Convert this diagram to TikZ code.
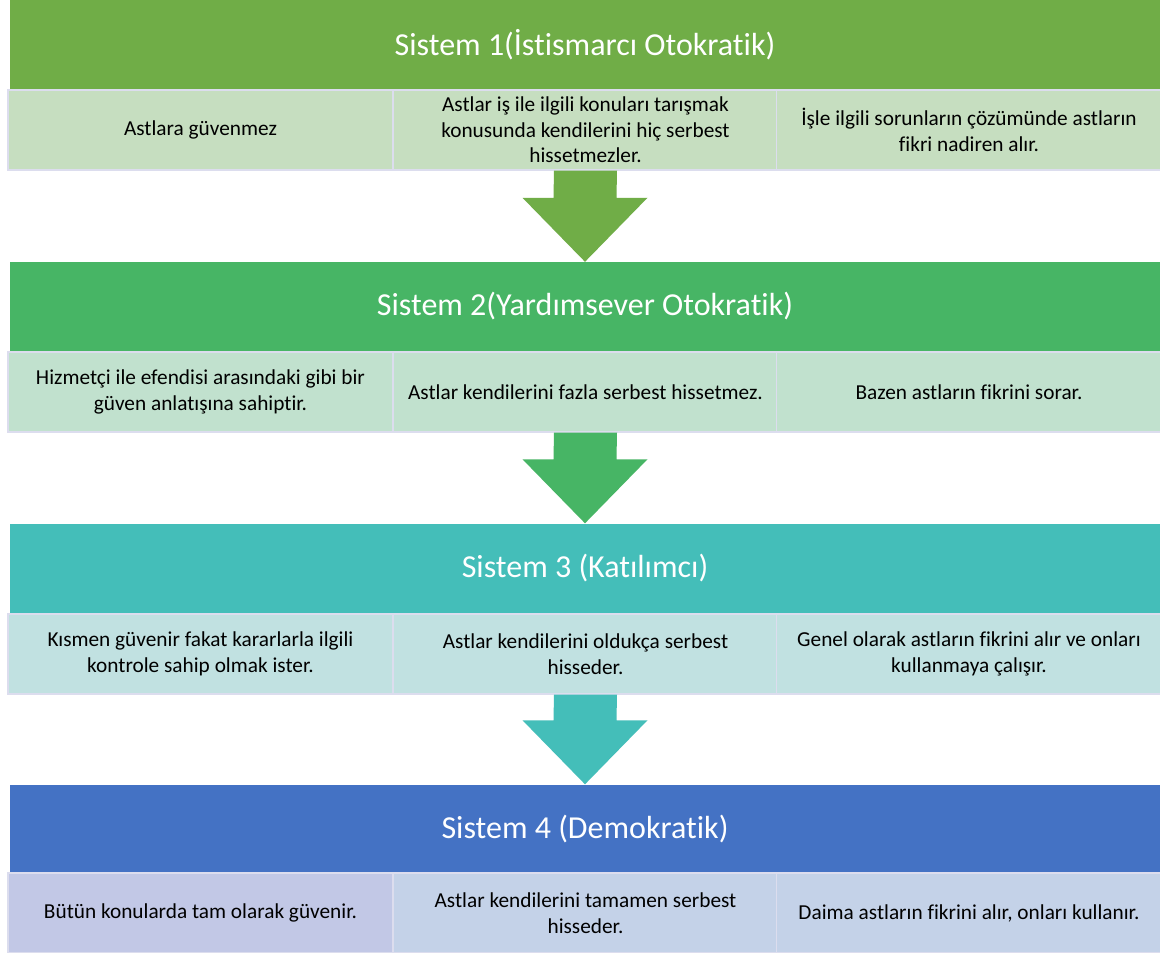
\documentclass[tikz,border=0pt]{standalone}
\usepackage{fontspec}
\setmainfont{Carlito}[Ligatures=NoCommon]
\usetikzlibrary{calc}

\definecolor{sysonehead}{HTML}{70AD47}
\definecolor{systwohead}{HTML}{47B565}
\definecolor{systhreehead}{HTML}{44BEB9}
\definecolor{sysfourhead}{HTML}{4472C4}
\definecolor{sysonecell}{HTML}{C6DEC0}
\definecolor{systwocell}{HTML}{C1E1CE}
\definecolor{systhreecell}{HTML}{C1E1E1}
\definecolor{sysfourcell}{HTML}{C4D2E8}
\definecolor{sysfourfirst}{HTML}{C2C8E6}
\definecolor{cellline}{HTML}{DCDDEE}

\begin{document}
\begin{tikzpicture}[x=1pt, y=1pt,
        header/.style={shape=rectangle, minimum width=1150pt, minimum height=89pt, inner sep=0pt, text=white, font=\fontsize{32}{38}\selectfont},
        cell/.style={shape=rectangle, draw=cellline, line width=1.2pt, minimum width=385pt, minimum height=80pt, inner sep=0pt, align=center, text=black, font=\fontsize{21.3}{25.5}\selectfont}]

                \useasboundingbox (0, 0) rectangle (1160, -953);
                \fill[white] (0, 0) rectangle (1160, -953);

                % Sistem 1
                \node[header, fill=sysonehead] (H1) at (585, -44.5) {Sistem 1(İstismarcı Otokratik)};
                \node[cell, fill=sysonecell] (C11) at (200.5, -130) {Astlara güvenmez};
                \node[cell, fill=sysonecell] (C12) at (585.5, -130) {Astlar iş ile ilgili konuları tarışmak\\konusunda kendilerini hiç serbest\\hissetmezler.};
                \node[cell, fill=sysonecell] (C13) at (969, -130) {İşle ilgili sorunların çözümünde astların\\fikri nadiren alır.};

                % Sistem 2
                \node[header, fill=systwohead] (H2) at (585, -306.5) {Sistem 2(Yardımsever Otokratik)};
                \node[cell, fill=systwocell] (C21) at (200.5, -392) {Hizmetçi ile efendisi arasındaki gibi bir\\güven anlatışına sahiptir.};
                \node[cell, fill=systwocell] (C22) at (585.5, -392) {Astlar kendilerini fazla serbest hissetmez.};
                \node[cell, fill=systwocell] (C23) at (969, -392) {Bazen astların fikrini sorar.};

                % Sistem 3
                \node[header, fill=systhreehead] (H3) at (585, -568) {Sistem 3 (Katılımcı)};
                \node[cell, fill=systhreecell] (C31) at (200.5, -654) {Kısmen güvenir fakat kararlarla ilgili\\kontrole sahip olmak ister.};
                \node[cell, fill=systhreecell] (C32) at (585.5, -654) {Astlar kendilerini oldukça serbest\\hisseder.};
                \node[cell, fill=systhreecell] (C33) at (969, -654) {Genel olarak astların fikrini alır ve onları\\kullanmaya çalışır.};

                % Sistem 4
                \node[header, fill=sysfourhead] (H4) at (585, -829) {Sistem 4 (Demokratik)};
                \node[cell, fill=sysfourfirst] (C41) at (200.5, -913) {Bütün konularda tam olarak güvenir.};
                \node[cell, fill=sysfourcell] (C42) at (585.5, -913) {Astlar kendilerini tamamen serbest\\hisseder.};
                \node[cell, fill=sysfourcell] (C43) at (969, -913) {Daima astların fikrini alır, onları kullanır.};

                % block arrows
                \fill[sysonehead] ($(C12.south)+(-31.5, 0)$) -- ($(C12.south)+(31.5, 0)$) -- ($(H2.north)+(31.5, 64)$) -- ($(H2.north)+(62.5, 64)$) -- (H2.north) -- ($(H2.north)+(-62.5, 64)$) -- ($(H2.north)+(-31.5, 64)$) -- cycle;
                \fill[systwohead] ($(C22.south)+(-31.5, 0)$) -- ($(C22.south)+(31.5, 0)$) -- ($(H3.north)+(31.5, 64)$) -- ($(H3.north)+(62.5, 64)$) -- (H3.north) -- ($(H3.north)+(-62.5, 64)$) -- ($(H3.north)+(-31.5, 64)$) -- cycle;
                \fill[systhreehead] ($(C32.south)+(-31.5, 0)$) -- ($(C32.south)+(31.5, 0)$) -- ($(H4.north)+(31.5, 64)$) -- ($(H4.north)+(62.5, 64)$) -- (H4.north) -- ($(H4.north)+(-62.5, 64)$) -- ($(H4.north)+(-31.5, 64)$) -- cycle;
            \end{tikzpicture}
\end{document}
